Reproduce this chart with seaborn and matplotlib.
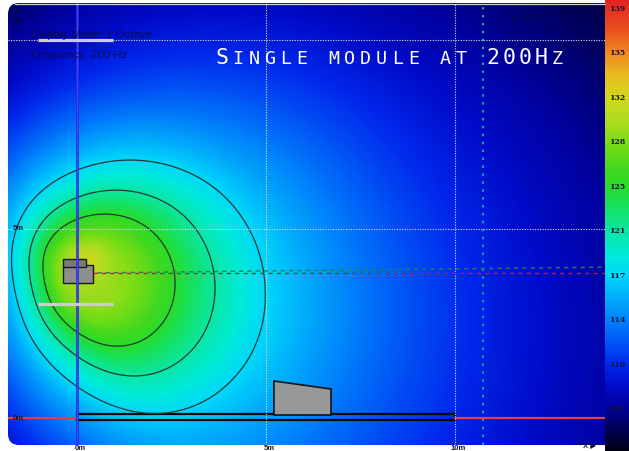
import numpy as np
import pandas as pd
import matplotlib
matplotlib.use("Agg")
import matplotlib.pyplot as plt
import matplotlib.transforms as mtransforms
from matplotlib.colors import LinearSegmentedColormap
from matplotlib.patches import Rectangle, Polygon, FancyBboxPatch
from matplotlib.lines import Line2D
import seaborn as sns

# ---------------- data ----------------
title = "Single module at 200Hz"
display_mode = "Display Mode: 1 Octave"
frequency_label = "Frequency: 200 Hz"

# single source model (SPL in dB)
source_xy = (0.0, 3.84)
hot_spot_xy = (0.3, 4.15)
level_1m_db = 137.4
near_falloff_db = 27.0      # per decade, up to the knee distance
far_falloff_db = 23.0       # per decade, beyond the knee
knee_m = 5.0
peak_cap_db = 129.7
hot_spot_db = 2.2
dir_angles_deg = [-180, -150, -120, -90, -60, -30, 0, 30, 60, 90, 120, 150, 180]
dir_gain_db = [-13.4, -13.0, -10.3, -6.7, -1.6, 0.0, -0.4, -1.9, -4.9, -7.8, -9.7, -11.8, -13.4]
contour_levels_db = [118.0, 121.5, 125.0]

# colour scale
scale_min_db = 103.8
scale_max_db = 140.0
cbar_tick_values = [139.29, 135.71, 132.14, 128.57, 125.0, 121.43, 117.86, 114.29, 110.71, 107.14]
cbar_tick_labels = ["139", "135", "132", "128", "125", "121", "117", "114", "110", "107"]
color_levels_db = [103.8, 105.6, 107.1, 108.9, 110.7, 112.5, 114.3, 116.2, 117.9, 119.6,
                   121.4, 123.3, 125.0, 126.6, 128.5, 130.2, 132.2, 133.9, 135.7, 137.7, 140.0]
color_stops = ["#000014", "#00005a", "#000096", "#000ac8", "#0028eb", "#0055f5", "#0082fa",
               "#00affa", "#00d7fa", "#00ebd7", "#0ae6a5", "#14e164", "#28dc28", "#46d71e",
               "#78dc14", "#aadc1e", "#d2d71e", "#e6be1e", "#f08c1e", "#eb501e", "#e12323"]

# scene (metres)
x_extent = (-1.825, 13.968)
y_extent = (-0.714, 10.979)
grid_x_m = [0, 5, 10]
grid_y_m = [5, 10]
aim_line_x = 10.74
stage_x = (0.0, 10.0)
stage_y = (-0.053, 0.107)
listener_shape = [(5.21, 0.08), (5.21, 0.979), (6.72, 0.767), (6.72, 0.08)]
cabinet_body = (-0.362, 3.579, 0.793, 0.469)
cabinet_top = (-0.378, 4.003, 0.616, 0.203)
marker_bars_y = [3.016, 10.0]
marker_bar_x = (-1.03, 0.952)

# ---------------- field ----------------
W, H = 629, 451
cell = 0.04
x0, x1 = x_extent
y0, y1 = y_extent
nx = int(round((x1 - x0) / cell))
ny = int(round((y1 - y0) / cell))
cx = (x1 - x0) / nx
cy = (y1 - y0) / ny
xs = x0 + cx * (np.arange(nx) + 0.5)
ys = y1 - cy * (np.arange(ny) + 0.5)
X, Y = np.meshgrid(xs, ys)

# polar response on a 1-degree table, smoothed around the circle
fine_deg = np.arange(-180, 180)
fine_gain = np.interp(fine_deg, dir_angles_deg, dir_gain_db)
kern_deg = np.arange(-45, 46)
kern = np.exp(-0.5 * (kern_deg / 14.0) ** 2)
kern /= kern.sum()
wrapped = np.concatenate([fine_gain[-45:], fine_gain, fine_gain[:45]])
fine_gain = np.convolve(wrapped, kern, mode="valid")

dx = X - source_xy[0]
dy = Y - source_xy[1]
r = np.clip(np.hypot(dx, dy), 0.05, None)
theta = np.degrees(np.arctan2(dy, dx))
gain = np.interp(theta, fine_deg, fine_gain, period=360)
raw = (level_1m_db + gain
       - far_falloff_db * np.log10(r)
       - (near_falloff_db - far_falloff_db) * np.log10(np.minimum(r, knee_m)))
soft = 3.0
spl = peak_cap_db - soft * np.logaddexp(0.0, (peak_cap_db - raw) / soft)
hs = np.hypot(X - hot_spot_xy[0], Y - hot_spot_xy[1])
spl = spl + hot_spot_db * np.exp(-(hs / 0.45) ** 2)

field = pd.DataFrame(spl, index=np.round(ys, 3), columns=np.round(xs, 3))

positions = [(v - scale_min_db) / (scale_max_db - scale_min_db) for v in color_levels_db]
cmap = LinearSegmentedColormap.from_list("spl", list(zip(positions, color_stops)))

# ---------------- figure ----------------
sns.set_style("white")
fig = plt.figure(figsize=(W / 100, H / 100), dpi=100)
fig.patch.set_facecolor("white")
ax = fig.add_axes([8 / W, 6 / H, 597 / W, 442 / H])
cax = fig.add_axes([605 / W, 0, 24 / W, 1])

sns.heatmap(field, ax=ax, cmap=cmap, vmin=scale_min_db, vmax=scale_max_db,
            cbar_ax=cax, xticklabels=False, yticklabels=False, rasterized=True)
ax.set_axis_off()
mesh = ax.collections[0]
cbar = mesh.colorbar
cbar.outline.set_visible(False)
cbar.set_ticks([])

# metres -> heatmap cell coordinates
m2d = mtransforms.Affine2D().translate(-x0, -y1).scale(1 / cx, -1 / cy) + ax.transData
# pixel (top-left origin) -> figure
px = mtransforms.Affine2D().scale(1 / W, -1 / H).translate(0, 1) + fig.transFigure

# rounded frame on the left corners
ax_w, ax_h = 597.0, 442.0
frame = FancyBboxPatch((0, 0), 1.05, 1.0,
                       boxstyle="round,pad=0,rounding_size=%f" % (11 / ax_w),
                       mutation_aspect=ax_w / ax_h,
                       transform=ax.transAxes, facecolor="none", edgecolor="none")
ax.add_patch(frame)
mesh.set_clip_path(frame)

cs = ax.contour(X, Y, spl, levels=contour_levels_db, colors="#1e3a30",
                linewidths=0.9, transform=m2d)
cs.set_clip_path(frame)

def line(xv, yv, **kw):
    ln = Line2D(xv, yv, transform=m2d, **kw)
    ln.set_clip_path(frame)
    ax.add_line(ln)
    return ln

# floor reference (0 m) either side of the stage
line([x0, stage_x[0]], [0, 0], color="#ec3c3c", lw=1.6)
line([stage_x[1], x1], [0, 0], color="#ec3c3c", lw=1.6)
# grid
for gx in grid_x_m[1:]:
    line([gx, gx], [y0, y1], color="#dcdcf0", lw=0.8, ls=(0, (1, 1.3)))
for gy in grid_y_m:
    line([x0, x1], [gy, gy], color="#dcdcf0", lw=0.8, ls=(0, (1, 1.3)))
# reference vertical at 0 m
line([0, 0], [y0, y1], color="#2a2ae6", lw=1.9)
line([0, 0], [y0, y1], color="#d0d0ff", lw=0.5, ls=(0, (1, 2)), alpha=0.7)
# aiming line
line([aim_line_x, aim_line_x], [y0, y1], color="#1f9a9a", lw=1.5, ls=(0, (1.2, 2.6)))
# speaker axes
line([0.43, x1], [source_xy[1], source_xy[1]], color="#a3283c", lw=1.0, ls=(0, (3, 3)))
line([0.43, x1], [source_xy[1], source_xy[1] + 0.15], color="#2a7d55", lw=1.0, ls=(3, (3, 3)))
# marker bars
for by in marker_bars_y:
    line(list(marker_bar_x), [by, by], color="#cdcdcd", lw=2.3, solid_capstyle="butt")

# stage
stage = Rectangle((stage_x[0], stage_y[0]), stage_x[1] - stage_x[0], stage_y[1] - stage_y[0],
                  transform=m2d, facecolor="none", edgecolor="#0a0a0a", lw=1.6)
ax.add_patch(stage)
# listener area
ax.add_patch(Polygon(listener_shape, closed=True, transform=m2d,
                     facecolor="#989898", edgecolor="#141414", lw=1.2))
# loudspeaker module
ax.add_patch(Rectangle(cabinet_body[:2], cabinet_body[2], cabinet_body[3], transform=m2d,
                       facecolor="#8e8e8e", edgecolor="#1a1a1a", lw=1.0))
ax.add_patch(Rectangle(cabinet_top[:2], cabinet_top[2], cabinet_top[3], transform=m2d,
                       facecolor="#7a7a7a", edgecolor="#1a1a1a", lw=1.0))

# top edge
fig.add_artist(Line2D([15, 605], [3.5, 3.5], transform=px, color="#cfd0dc", lw=0.9))

# colour bar labels
cb_tf = mtransforms.blended_transform_factory(cax.transAxes, cax.transData)
for v, lab in zip(cbar_tick_values, cbar_tick_labels):
    cax.text(0.5, v, lab, transform=cb_tf, ha="center", va="center",
             fontsize=5.6, fontweight="bold", family="DejaVu Serif", color="#14143a")

# info texts
info = dict(transform=px, ha="left", va="center", fontsize=8.2,
            family=["Liberation Sans", "DejaVu Sans"], color="#0a0a48", alpha=0.9)
fig.text(31, 35, display_mode, **info)
fig.text(31, 55, frequency_label, **info)
fig.text(520, 19, "Y: 0", transform=px, ha="center", va="center", fontsize=8.2,
         family=["Liberation Sans", "DejaVu Sans"], color="#0a0a40", alpha=0.9)
fig.text(16, 11, "\u25b2", transform=px, ha="center", va="center", fontsize=4.5,
         family="DejaVu Sans", color="#0a0a28")
fig.text(16, 21, "N", transform=px, ha="center", va="center", fontsize=5, color="#0a0a28",
         fontweight="bold")

dim = dict(transform=px, va="center", fontsize=5.5, fontweight="bold",
           family=["Liberation Sans", "DejaVu Sans"], color="#14142a")
fig.text(18, 229, "5m", ha="center", **dim)
fig.text(18, 419, "0m", ha="center", **dim)
for gx, lab in zip(grid_x_m, ["0m", "5m", "10m"]):
    xp = 77 + 37.8 * gx
    fig.text(xp + 3, 448, lab, ha="center", **dim)
fig.text(590, 447, "X \u25b6", ha="center", **dim)

# title in small capitals
pitch = 15.95
for i, ch in enumerate(title):
    if ch == " ":
        continue
    big = ch.isupper() or ch.isdigit()
    fig.text(222 + i * pitch, 64, ch.upper(), transform=px, ha="center", va="baseline",
             fontsize=15.5 if big else 13.2, family="DejaVu Sans Mono", color="white")

fig.savefig("out.png", dpi=100, facecolor="white")
